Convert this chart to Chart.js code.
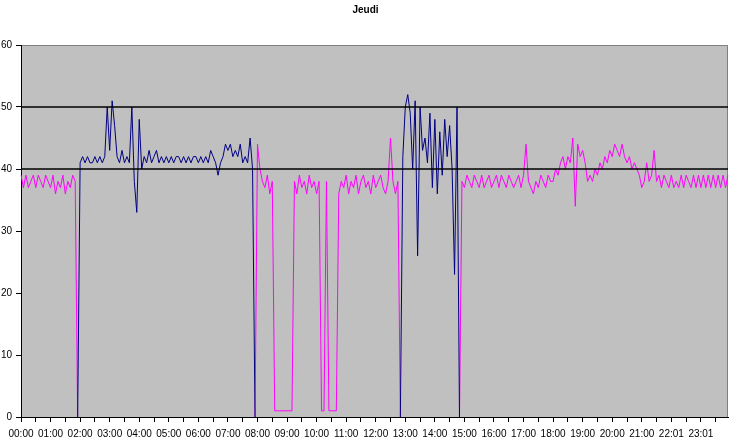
<!DOCTYPE html>
<html>
<head>
<meta charset="utf-8">
<title>Jeudi</title>
<script src="https://cdn.jsdelivr.net/npm/chart.js@4"></script>
<style>
  html, body { margin: 0; padding: 0; background: #fff; }
  canvas { display: block; }
</style>
</head>
<body>
<canvas id="chart" width="734" height="447"></canvas>
<script>
// categories : un point toutes les 5 minutes
const heures = [];
for (let i = 0; i < 288; i++) {
    const h = String(Math.floor(i / 12)).padStart(2, '0');
    const m = String((i % 12) * 5).padStart(2, '0');
    heures.push(h + ':' + m);
}

// etiquettes de l'axe (une par heure)
const etiquettes = ['00:00', '01:00', '02:00', '03:00', '04:00', '05:00', '06:00', '07:00',
    '08:00', '09:00', '10:00', '11:00', '12:00', '13:00', '14:00', '15:00', '16:00',
    '17:00', '18:00', '19:00', '20:00', '21:00', '22:01', '23:01'];

const seuils = [40, 50];

const _ = null;

// serie rose (magenta)
const rose = [
    39, 37, 39, 37, 38, 39, 37, 39, 38, 37, 39, 38,
    37, 39, 36, 38, 37, 39, 36, 38, 37, 39, 38, 0,
    _, _, _, _, _, _, _, _, _, _, _, _,
    _, _, _, _, _, _, _, _, _, _, _, _,
    _, _, _, _, _, _, _, _, _, _, _, _,
    _, _, _, _, _, _, _, _, _, _, _, _,
    _, _, _, _, _, _, _, _, _, _, _, _,
    _, _, _, _, _, _, _, _, _, _, _, 0,
    44, 40, 38, 37, 39, 36, 38, 1, 1, 1, 1, 1,
    1, 1, 1, 38, 36, 39, 37, 38, 36, 39, 37, 38,
    36, 38, 1, 1, 38, 1, 1, 1, 1, 36, 38, 37,
    39, 36, 38, 37, 39, 36, 38, 39, 37, 38, 36, 39,
    37, 38, 39, 37, 36, 38, 45, 38, 36, 38, 0, _,
    _, _, _, _, _, _, _, _, _, _, _, _,
    _, _, _, _, _, _, _, _, _, _, 0, 38,
    37, 39, 38, 37, 39, 38, 37, 39, 37, 38, 39, 37,
    38, 39, 37, 39, 38, 37, 39, 38, 37, 38, 39, 37,
    39, 44, 38, 37, 36, 38, 37, 39, 38, 37, 39, 38,
    38, 40, 39, 41, 42, 40, 42, 41, 45, 34, 44, 42,
    43, 41, 38, 39, 38, 40, 39, 41, 40, 42, 41, 43,
    42, 44, 43, 42, 44, 42, 41, 42, 40, 41, 40, 39,
    37, 38, 41, 38, 39, 43, 38, 39, 37, 39, 38, 37,
    39, 37, 38, 37, 39, 37, 39, 38, 37, 39, 37, 39,
    37, 39, 37, 39, 37, 39, 37, 39, 37, 39, 37, 39
];

// serie bleue (marine)
const marine = [
    _, _, _, _, _, _, _, _, _, _, _, _,
    _, _, _, _, _, _, _, _, _, _, _, 0,
    41, 42, 41, 42, 41, 41, 42, 41, 42, 41, 42, 50,
    43, 51, 47, 42, 41, 43, 41, 42, 41, 50, 38, 33,
    48, 40, 42, 41, 43, 41, 42, 43, 41, 42, 41, 42,
    41, 42, 41, 42, 42, 41, 42, 41, 42, 41, 42, 42,
    41, 42, 41, 42, 41, 43, 42, 41, 39, 41, 42, 44,
    43, 44, 42, 43, 42, 44, 41, 42, 41, 45, 40, 0,
    _, _, _, _, _, _, _, _, _, _, _, _,
    _, _, _, _, _, _, _, _, _, _, _, _,
    _, _, _, _, _, _, _, _, _, _, _, _,
    _, _, _, _, _, _, _, _, _, _, _, _,
    _, _, _, _, _, _, _, _, _, _, 0, 42,
    50, 52, 49, 40, 51, 26, 50, 43, 45, 41, 49, 37,
    48, 36, 46, 39, 48, 42, 47, 40, 23, 50, 0, _,
    _, _, _, _, _, _, _, _, _, _, _, _,
    _, _, _, _, _, _, _, _, _, _, _, _,
    _, _, _, _, _, _, _, _, _, _, _, _,
    _, _, _, _, _, _, _, _, _, _, _, _,
    _, _, _, _, _, _, _, _, _, _, _, _,
    _, _, _, _, _, _, _, _, _, _, _, _,
    _, _, _, _, _, _, _, _, _, _, _, _,
    _, _, _, _, _, _, _, _, _, _, _, _,
    _, _, _, _, _, _, _, _, _, _, _, _
];

// fond gris + cadre de la zone de trace
const fondGris = {
    id: 'fondGris',
    beforeDraw(chart) {
        const a = chart.chartArea;
        const ctx = chart.ctx;
        ctx.save();
        ctx.fillStyle = '#c0c0c0';
        ctx.fillRect(a.left, a.top, a.right - a.left, a.bottom - a.top);
        ctx.strokeStyle = '#808080';
        ctx.lineWidth = 1;
        ctx.beginPath();
        ctx.moveTo(a.left, a.top + 0.5);
        ctx.lineTo(a.right - 0.5, a.top + 0.5);
        ctx.lineTo(a.right - 0.5, a.bottom);
        ctx.stroke();
        ctx.restore();
    }
};

Chart.defaults.font.family = "'Liberation Sans', Arial, sans-serif";
Chart.defaults.font.size = 10;
Chart.defaults.color = '#000';

const dernier = heures[heures.length - 1];

new Chart(document.getElementById('chart'), {
    type: 'line',
    data: {
        labels: heures,
        datasets: [
            ...seuils.map(s => ({
                data: [{ x: heures[0], y: s }, { x: dernier, y: s }],
                borderColor: '#000',
                borderWidth: 1.3,
                pointRadius: 0
            })),
            {
                data: marine,
                borderColor: '#000080',
                borderWidth: 1,
                pointRadius: 0,
                tension: 0
            },
            {
                data: rose,
                borderColor: '#ff00ff',
                borderWidth: 1,
                pointRadius: 0,
                tension: 0
            }
        ]
    },
    options: {
        responsive: false,
        animation: false,
        layout: { padding: { left: 0, right: 3, top: 0, bottom: 0 } },
        plugins: {
            legend: { display: false },
            tooltip: { enabled: false },
            title: {
                display: true,
                text: 'Jeudi',
                font: { weight: 'bold', size: 10 },
                padding: { top: 4, bottom: 29 }
            }
        },
        scales: {
            x: {
                grid: {
                    drawOnChartArea: false,
                    tickLength: 5,
                    color: ctx => (ctx.index % 6 === 0 ? '#000' : 'rgba(0,0,0,0)')
                },
                border: { color: '#000' },
                ticks: {
                    autoSkip: false,
                    maxRotation: 0,
                    padding: 6,
                    callback: (val, idx) => (idx % 12 === 0 ? etiquettes[idx / 12] : '')
                },
                afterFit(scale) { scale.height = 30; }
            },
            y: {
                min: 0,
                max: 60,
                grid: { drawOnChartArea: false, tickLength: 5, color: '#000' },
                border: { color: '#000' },
                ticks: { stepSize: 10, padding: 4 },
                afterFit(scale) { scale.width = 21; }
            }
        }
    },
    plugins: [fondGris]
});
</script>
</body>
</html>
